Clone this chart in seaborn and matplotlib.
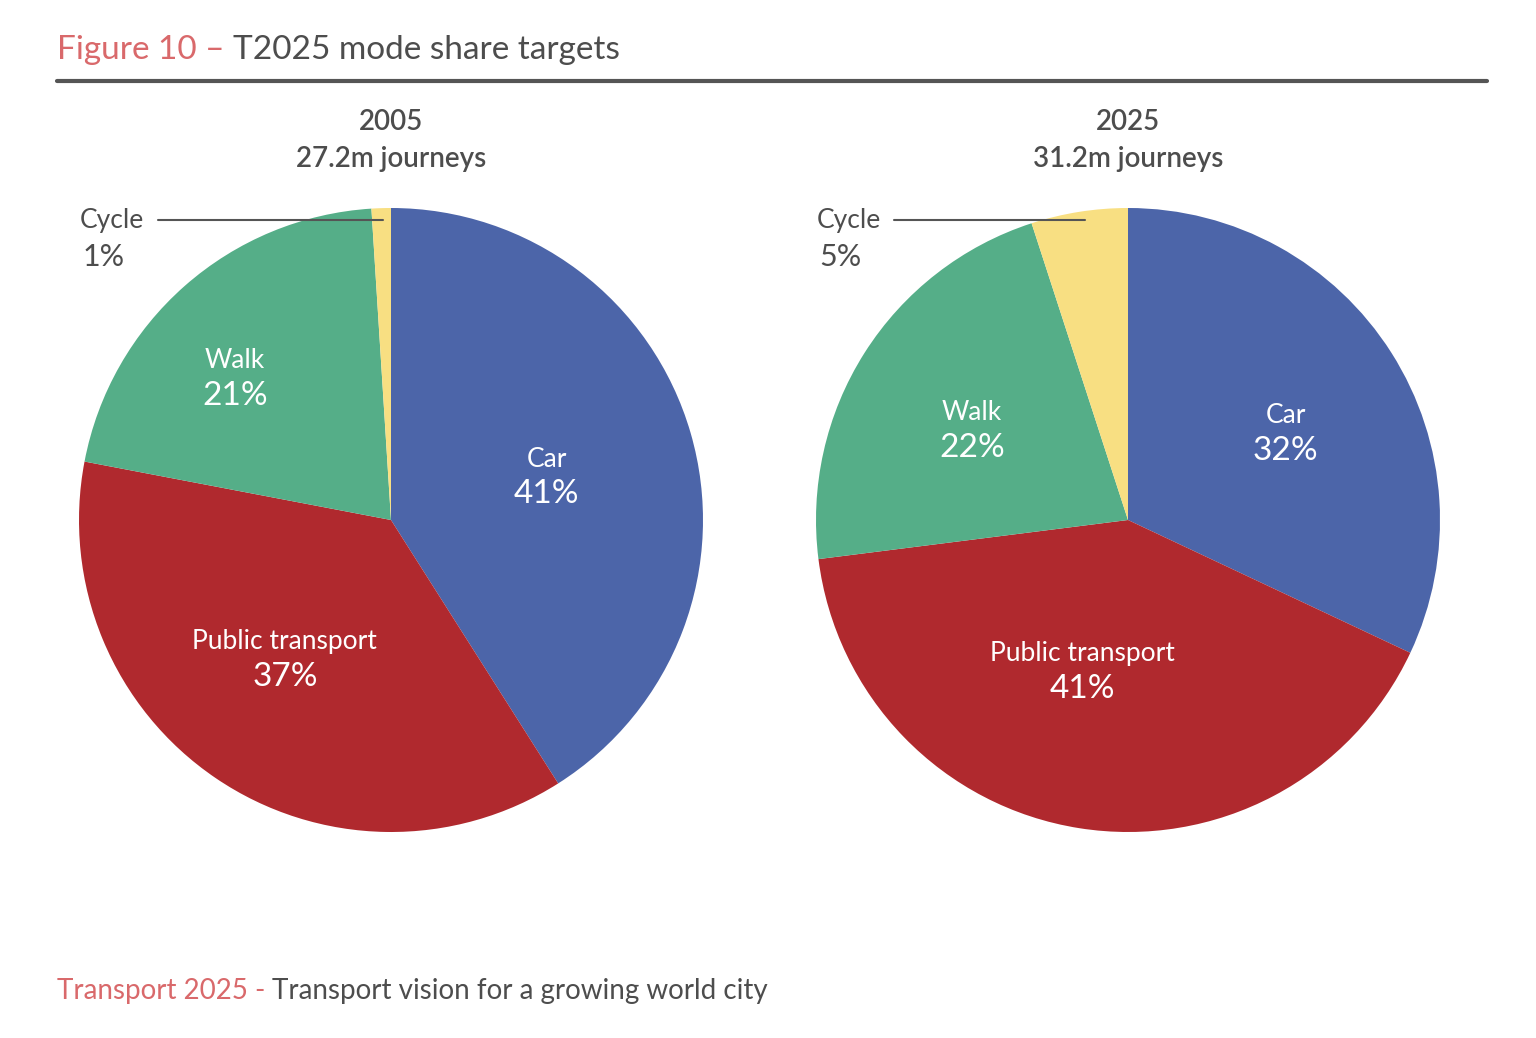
import matplotlib
matplotlib.use("Agg")
import matplotlib.pyplot as plt
import seaborn as sns
import numpy as np

# ---- data ----
modes = ["Car", "Public transport", "Walk", "Cycle"]
share_2005 = [41, 37, 21, 1]
share_2025 = [32, 41, 22, 5]
years = ["2005", "2025"]
journeys = ["27.2m journeys", "31.2m journeys"]
title_pre = "Figure 10 \u2013 "
title_main = "T2025 mode share targets"
foot_pre = "Transport 2025 - "
foot_main = "Transport vision for a growing world city"

sns.set_theme(style="white")
plt.rcParams['font.family'] = ['Lato', 'DejaVu Sans']

colors = ["#4C65A9", "#B0292E", "#55AE88", "#F8DF82"]
grey = "#4D4D4D"
pink = "#D9696B"

W, H = 1536, 1038
fig = plt.figure(figsize=(W / 100, H / 100), dpi=100)

# title
t = fig.text(57 / W, 1 - 50 / H, title_pre, color=pink, fontsize=24, va="center", ha="left")
fig.canvas.draw()
bb = t.get_window_extent()
fig.text(bb.x1 / W, 1 - 50 / H, title_main, color=grey, fontsize=24, va="center", ha="left")
fig.add_artist(plt.Line2D([57 / W, 1487 / W], [1 - 81 / H, 1 - 81 / H], color="#555555", lw=3))

# footer
f = fig.text(57 / W, 1 - 991 / H, foot_pre, color=pink, fontsize=20, va="center", ha="left")
fig.canvas.draw()
bb = f.get_window_extent()
fig.text(bb.x1 / W, 1 - 991 / H, foot_main, color=grey, fontsize=20, va="center", ha="left")

R = 312
cy = 520
centers = [391, 1128]
label_dist = [[0.52, 0.556, 0.68], [0.58, 0.50, 0.58]]
label_angoff = [[0, -3.5, 6], [-3, -8, 2]]

for i, (vals, cx) in enumerate(zip([share_2005, share_2025], centers)):
    ax = fig.add_axes([(cx - R) / W, (H - cy - R) / H, 2 * R / W, 2 * R / H])
    wedges, _ = ax.pie(vals, colors=colors, startangle=90, counterclock=False,
                       radius=1, wedgeprops=dict(linewidth=0))
    ax.set_xlim(-1, 1)
    ax.set_ylim(-1, 1)
    ax.set_aspect("equal")
    ax.axis("off")
    for j in range(3):
        w = wedges[j]
        ang = np.deg2rad((w.theta1 + w.theta2) / 2 + label_angoff[i][j])
        d = label_dist[i][j]
        x, y = d * np.cos(ang), d * np.sin(ang)
        ax.text(x, y + 0.05, modes[j], color="white", fontsize=19, ha="center", va="center")
        ax.text(x, y - 0.062, f"{vals[j]}%", color="white", fontsize=24, ha="center", va="center")
    # cycle callout
    ly = 300 / R
    x0 = (158 - 391) / R if i == 0 else (894 - cx) / R
    x1 = (383 - 391) / R if i == 0 else (1085 - cx) / R
    ax.plot([x0, x1], [ly, ly], color="#555555", lw=1.5, clip_on=False, zorder=5)
    tx = (80 - 391) / R if i == 0 else (817 - cx) / R
    ax.text(tx, ly - 0.003, modes[3], color=grey, fontsize=19, ha="left", va="center", clip_on=False)
    ax.text(tx + 0.008, ly - 0.118, f"{vals[3]}%", color=grey, fontsize=22, ha="left", va="center", clip_on=False)
    # headings
    fig.text(cx / W, 1 - 122 / H, years[i], color=grey, fontsize=20, fontweight="semibold",
             ha="center", va="center")
    fig.text(cx / W, 1 - 159 / H, journeys[i], color=grey, fontsize=20, fontweight="semibold",
             ha="center", va="center")

fig.savefig("out.png", dpi=100, facecolor="white")
